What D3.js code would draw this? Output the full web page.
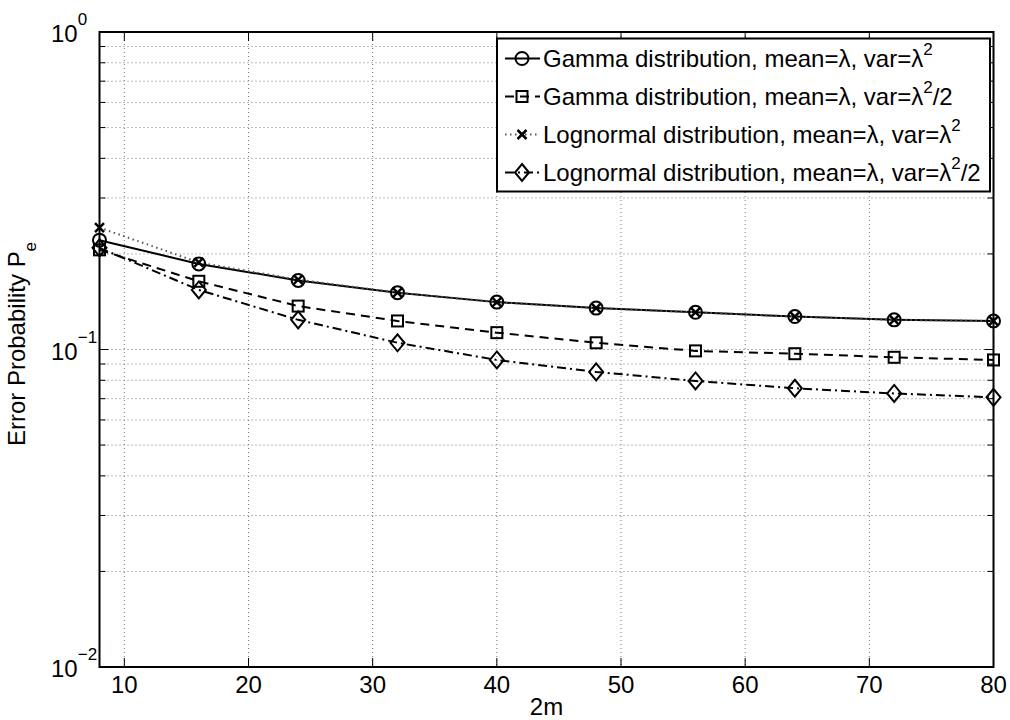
<!DOCTYPE html>
<html>
<head>
<meta charset="utf-8">
<script src="https://cdn.jsdelivr.net/npm/d3@7"></script>
<style>
  body { margin: 0; background: #fff; }
  text { font-family: "Liberation Sans", Arial, sans-serif; fill: #000; }
</style>
</head>
<body>
<svg id="chart" width="1010" height="720"></svg>
<script>
// values
var twoM = [8, 16, 24, 32, 40, 48, 56, 64, 72, 80];
var gammaVar = [0.221, 0.186, 0.165, 0.151, 0.141, 0.135, 0.131, 0.127, 0.124, 0.123];
var gammaVarHalf = [0.206, 0.164, 0.137, 0.123, 0.113, 0.105, 0.099, 0.097, 0.0945, 0.0927];
var lognVar = [0.242, 0.188, 0.166, 0.151, 0.141, 0.135, 0.131, 0.127, 0.124, 0.123];
var lognVarHalf = [0.209, 0.154, 0.124, 0.105, 0.0927, 0.085, 0.0796, 0.0755, 0.0727, 0.0707];
var xTicks = [10, 20, 30, 40, 50, 60, 70, 80];
var yDecades = [0, -1, -2];

var series = [
    { vals: gammaVar, dash: null, color: "#000", marker: "circle", pre: "Gamma distribution, mean=λ, var=λ", post: "" },
    { vals: gammaVarHalf, dash: "9,6", color: "#000", marker: "square", pre: "Gamma distribution, mean=λ, var=λ", post: "/2" },
    { vals: lognVar, dash: "1.5,3.5", color: "#555", marker: "cross", pre: "Lognormal distribution, mean=λ, var=λ", post: "" },
    { vals: lognVarHalf, dash: "9,4,2,4", color: "#000", marker: "diamond", pre: "Lognormal distribution, mean=λ, var=λ", post: "/2" }
];

var L = 99.5, R = 993.5, T = 32, B = 667;
var FS = 24, SUP = 17;
var svg = d3.select("#chart");

var x = d3.scaleLinear().domain([8, 80]).range([L, R]);
var y = d3.scaleLog().domain([0.01, 1]).range([B, T]);

// grid
var grid = svg.append("g").attr("stroke", "#777").attr("stroke-width", 1).attr("stroke-dasharray", "1,3");
xTicks.forEach(t => {
    grid.append("line").attr("x1", x(t)).attr("x2", x(t)).attr("y1", T).attr("y2", B);
});
var minor = [];
[-2, -1].forEach(e => { for (var k = 1; k <= 9; k++) minor.push(k * Math.pow(10, e)); });
minor.push(1);
minor.forEach(v => {
    grid.append("line").attr("x1", L).attr("x2", R).attr("y1", y(v)).attr("y2", y(v));
});

// ticks (inside, on all four sides)
var tk = svg.append("g").attr("stroke", "#000").attr("stroke-width", 1);
xTicks.forEach(t => {
    tk.append("line").attr("x1", x(t)).attr("x2", x(t)).attr("y1", B).attr("y2", B - 9);
    tk.append("line").attr("x1", x(t)).attr("x2", x(t)).attr("y1", T).attr("y2", T + 9);
});
minor.forEach(v => {
    var len = (Math.abs(Math.log10(v) - Math.round(Math.log10(v))) < 1e-9) ? 9 : 6;
    tk.append("line").attr("x1", L).attr("x2", L + len).attr("y1", y(v)).attr("y2", y(v));
    tk.append("line").attr("x1", R).attr("x2", R - len).attr("y1", y(v)).attr("y2", y(v));
});

// series lines
var line = d3.line().x((d, i) => x(twoM[i])).y(d => y(d));
var plot = svg.append("g");
series.forEach(s => {
    plot.append("path").attr("d", line(s.vals)).attr("fill", "none")
        .attr("stroke", s.color).attr("stroke-width", 2)
        .attr("stroke-dasharray", s.dash);
});

function drawMarker(g, type, cx, cy) {
    var m = g.append("g").attr("transform", "translate(" + cx + "," + cy + ")")
        .attr("fill", "none").attr("stroke", "#000").attr("stroke-width", 2);
    if (type === "circle") m.append("circle").attr("r", 6.5);
    if (type === "square") m.append("rect").attr("x", -5.5).attr("y", -5.5).attr("width", 11).attr("height", 11);
    if (type === "cross") m.append("path").attr("d", "M-4.5,-4.5L4.5,4.5M-4.5,4.5L4.5,-4.5").attr("stroke-width", 2.5);
    if (type === "diamond") m.append("path").attr("d", "M0,-8.5L7,0L0,8.5L-7,0Z");
}
series.forEach(s => {
    s.vals.forEach((v, i) => drawMarker(plot, s.marker, x(twoM[i]), y(v)));
});

// axes frame
svg.append("rect").attr("x", L).attr("y", T).attr("width", R - L).attr("height", B - T)
    .attr("fill", "none").attr("stroke", "#000").attr("stroke-width", 2);

// x tick labels
xTicks.forEach(t => {
    svg.append("text").attr("x", x(t)).attr("y", B + 26).attr("text-anchor", "middle")
        .attr("font-size", FS).text(t);
});
// y tick labels 10^n
yDecades.forEach(e => {
    var ty = y(Math.pow(10, e));
    var tx = svg.append("text").attr("x", 51).attr("y", ty + 10).attr("font-size", FS);
    tx.append("tspan").text("10");
    tx.append("tspan").attr("dy", -17).attr("font-size", SUP).text(e === 0 ? "0" : "\u2212" + (-e));
});

// axis titles
svg.append("text").attr("x", (L + R) / 2).attr("y", 715).attr("text-anchor", "middle")
    .attr("font-size", FS).text("2m");
var yl = svg.append("text").attr("transform", "translate(25,344) rotate(-90)")
    .attr("text-anchor", "middle").attr("font-size", FS);
yl.append("tspan").text("Error Probability P");
yl.append("tspan").attr("dy", 11).attr("font-size", SUP).text("e");

// legend
var lg = svg.append("g");
lg.append("rect").attr("x", 497).attr("y", 38.5).attr("width", 493).attr("height", 153)
    .attr("fill", "#fff").attr("stroke", "#000").attr("stroke-width", 2);
series.forEach((s, i) => {
    var ly = 58.5 + i * 38;
    lg.append("line").attr("x1", 505).attr("x2", 540).attr("y1", ly).attr("y2", ly)
        .attr("stroke", s.color).attr("stroke-width", 2).attr("stroke-dasharray", s.dash);
    drawMarker(lg, s.marker, 522, ly);
    var t = lg.append("text").attr("x", 543).attr("y", ly + 8.5).attr("font-size", FS);
    t.append("tspan").text(s.pre);
    t.append("tspan").attr("dy", -12).attr("font-size", SUP).text("2");
    if (s.post) t.append("tspan").attr("dy", 12).text(s.post);
});
</script>
</body>
</html>
